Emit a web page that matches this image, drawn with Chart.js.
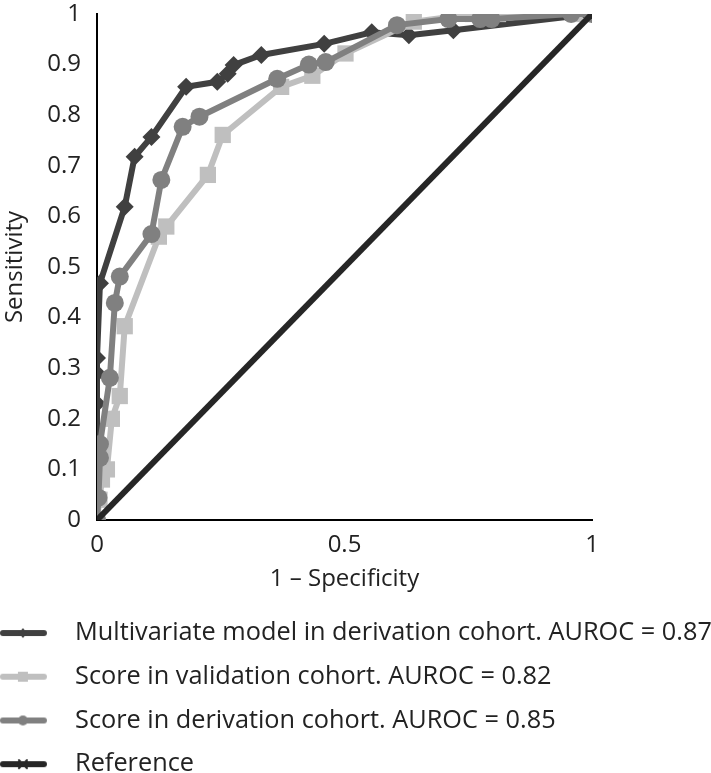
<!DOCTYPE html>
<html><head><meta charset="utf-8">
<script src="https://cdn.jsdelivr.net/npm/chart.js@4/dist/chart.umd.min.js"></script>
<style>html,body{margin:0;padding:0;background:#fff;} #wrap{width:711px;height:773px;}</style>
</head><body><div id="wrap"><canvas id="c" width="711" height="773"></canvas></div>
<script>
// ---- data ----
const multivariateX = [0, 0, 0, 0, 0, 0.006, 0.056, 0.076, 0.11, 0.18, 0.243, 0.264, 0.276, 0.332, 0.459, 0.555, 0.63, 0.72, 1];
const multivariateY = [0, 0.1, 0.23, 0.29, 0.32, 0.468, 0.619, 0.718, 0.757, 0.856, 0.866, 0.882, 0.899, 0.919, 0.941, 0.964, 0.958, 0.968, 1];
const validationX = [0, 0.005, 0.01, 0.02, 0.03, 0.046, 0.056, 0.125, 0.14, 0.224, 0.254, 0.372, 0.435, 0.502, 0.64, 0.76, 0.81, 0.965, 1];
const validationY = [0, 0.04, 0.08, 0.1, 0.2, 0.245, 0.383, 0.56, 0.58, 0.682, 0.761, 0.856, 0.878, 0.922, 0.985, 1, 1, 1, 1];
const derivationX = [0, 0.003, 0.006, 0.006, 0.026, 0.036, 0.046, 0.11, 0.13, 0.173, 0.207, 0.364, 0.428, 0.462, 0.606, 0.71, 0.774, 0.797, 0.958, 1];
const derivationY = [0, 0.044, 0.123, 0.15, 0.281, 0.429, 0.481, 0.565, 0.672, 0.777, 0.797, 0.872, 0.9, 0.905, 0.978, 0.99, 0.99, 0.99, 1, 1];
const referenceX = [0, 1];
const referenceY = [0, 1];
const seriesNames = [
  'Multivariate model in derivation cohort. AUROC = 0.87',
  'Score in validation cohort. AUROC = 0.82',
  'Score in derivation cohort. AUROC = 0.85',
  'Reference'
];
const xTickValues = [0, 0.5, 1];
const xTickLabels = ['0', '0.5', '1'];
const yTickValues = [0, 0.1, 0.2, 0.3, 0.4, 0.5, 0.6, 0.7, 0.8, 0.9, 1];
const yTickLabels = ['0', '0.1', '0.2', '0.3', '0.4', '0.5', '0.6', '0.7', '0.8', '0.9', '1'];
const xTitle = '1 \u2013 Specificity';
const yTitle = 'Sensitivity';

// ---- styles ----
const FONT = "'Open Sans', 'Noto Sans', sans-serif";
const TEXT = '#222';
const colors = ['#404040', '#bfbfbf', '#808080', '#262626'];
const styles = ['rectRot', 'rect', 'circle', 'crossRot'];
const radii = [9, 11.5, 9, 11];
const LEG_FONT = 25.3, LEG_PAD = 18.4, LEG_BOX = 44;
const LEGEND_HEIGHT = 171;

function pts(xs, ys) { return xs.map((x, i) => ({x: x, y: ys[i]})); }
const seriesData = [
  pts(multivariateX, multivariateY),
  pts(validationX, validationY),
  pts(derivationX, derivationY),
  pts(referenceX, referenceY)
];

// legend sample: line with small marker, drawn from the canvas's left edge
function legendIcon(i) {
  const cv = document.createElement('canvas');
  const center = LEG_PAD + LEG_BOX / 2;
  cv.width = Math.round(center * 2); cv.height = 16;
  const g = cv.getContext('2d');
  g.strokeStyle = colors[i]; g.fillStyle = colors[i];
  g.lineWidth = 6; g.lineCap = 'round';
  g.beginPath(); g.moveTo(3, 8); g.lineTo(44, 8); g.stroke();
  const cx = 23, cy = 8;
  g.beginPath();
  if (i === 0) { g.moveTo(cx - 4, cy); g.lineTo(cx, cy - 5); g.lineTo(cx + 4, cy); g.lineTo(cx, cy + 5); g.closePath(); g.fill(); }
  else if (i === 1) { g.fillRect(cx - 5, cy - 5, 10, 10); }
  else if (i === 2) { g.arc(cx, cy, 5, 0, Math.PI * 2); g.fill(); }
  else { g.lineWidth = 2; g.moveTo(cx - 4, cy - 4); g.lineTo(cx + 4, cy + 4); g.moveTo(cx + 4, cy - 4); g.lineTo(cx - 4, cy + 4); g.stroke(); }
  return cv;
}
const icons = [0, 1, 2, 3].map(legendIcon);

const datasets = seriesData.map((d, i) => ({
  label: seriesNames[i],
  data: d,
  borderColor: colors[i],
  backgroundColor: colors[i],
  borderWidth: 6,
  pointStyle: styles[i],
  pointRadius: radii[i],
  pointHoverRadius: radii[i],
  pointBorderColor: colors[i],
  pointBackgroundColor: colors[i],
  pointBorderWidth: i === 3 ? 3 : 0,
  showLine: true,
  tension: 0,
  order: 4 - i
}));

const legendHeightFix = {
  id: 'legendHeightFix',
  beforeLayout(chart) {
    const lg = chart.legend;
    if (lg && !lg.__fixed) {
      const orig = lg.fit;
      lg.fit = function () { orig.call(this); this.height = LEGEND_HEIGHT; };
      lg.__fixed = true;
    }
  }
};

new Chart(document.getElementById('c'), {
  type: 'scatter',
  data: { datasets: datasets },
  plugins: [legendHeightFix],
  options: {
    responsive: false,
    animation: false,
    events: [],
    layout: { padding: 0 },
    plugins: {
      tooltip: { enabled: false },
      legend: {
        position: 'bottom',
        align: 'start',
        labels: {
          usePointStyle: true,
          pointStyleWidth: LEG_BOX,
          padding: LEG_PAD,
          color: TEXT,
          font: { family: FONT, size: LEG_FONT },
          generateLabels: (chart) => chart.data.datasets.map((ds, i) => ({
            text: ds.label,
            fillStyle: colors[i],
            strokeStyle: colors[i],
            lineWidth: 0,
            pointStyle: icons[i],
            hidden: false,
            datasetIndex: i,
            fontColor: TEXT
          }))
        }
      }
    },
    scales: {
      x: {
        type: 'linear', min: 0, max: 1,
        afterBuildTicks: (s) => { s.ticks = xTickValues.map(v => ({value: v})); },
        afterFit: (s) => { s.height = 82; },
        grid: { display: false, drawTicks: false },
        border: { display: true, color: '#000', width: 2 },
        ticks: {
          padding: 13, color: TEXT,
          font: { family: FONT, size: 24, lineHeight: 1.0 },
          callback: (v) => xTickLabels[xTickValues.indexOf(v)]
        },
        title: { display: true, text: xTitle, color: TEXT, font: { family: FONT, size: 24 }, padding: { top: 0, bottom: 8 } }
      },
      y: {
        type: 'linear', min: 0, max: 1,
        afterBuildTicks: (s) => { s.ticks = yTickValues.map(v => ({value: v})); },
        afterFit: (s) => { s.width = 97; s.paddingTop = 10.5; s.paddingBottom = 10.5; },
        grid: { display: false, drawTicks: false },
        border: { display: true, color: '#000', width: 2 },
        ticks: {
          padding: 16, color: TEXT,
          font: { family: FONT, size: 24, lineHeight: 0.875 },
          callback: (v) => yTickLabels[yTickValues.indexOf(v)]
        },
        title: { display: true, text: yTitle, color: TEXT, font: { family: FONT, size: 24 }, padding: { top: 1, bottom: 0 } }
      },
      rightSpace: {
        type: 'linear', position: 'right', min: 0, max: 1,
        afterFit: (s) => { s.width = 119; },
        grid: { display: false, drawTicks: false },
        border: { display: false },
        ticks: { display: false }
      }
    }
  }
});
</script>
</body></html>
